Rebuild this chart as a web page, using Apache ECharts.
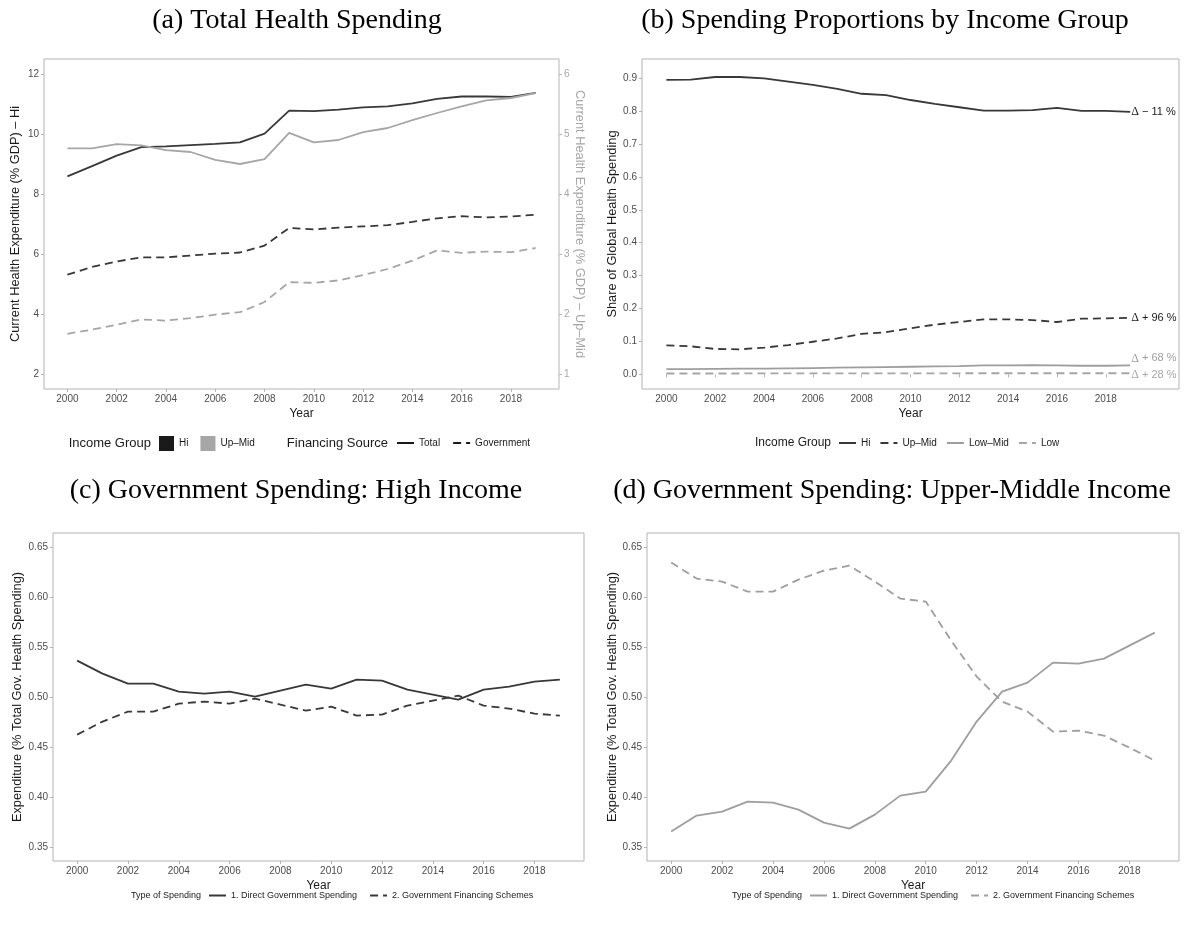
<!DOCTYPE html>
<html><head><meta charset="utf-8">
<script src="https://cdn.jsdelivr.net/npm/echarts@6/dist/echarts.min.js"></script>
<style>html,body{margin:0;padding:0;background:#fff}#c{width:1184px;height:933px}</style>
</head><body><div id="c"></div>
<script>
// ---------- data ----------
const years = [2000,2001,2002,2003,2004,2005,2006,2007,2008,2009,2010,2011,2012,2013,2014,2015,2016,2017,2018,2019];
const yearTicks = [2000,2002,2004,2006,2008,2010,2012,2014,2016,2018];

// (a) % GDP; Hi on left axis, Up-Mid on right axis
const hiTotal    = [8.61,8.95,9.30,9.58,9.61,9.65,9.69,9.74,10.03,10.80,10.78,10.83,10.91,10.94,11.04,11.19,11.27,11.27,11.26,11.39];
const hiGov      = [5.33,5.59,5.77,5.91,5.91,5.97,6.03,6.07,6.30,6.89,6.84,6.90,6.94,6.98,7.09,7.21,7.28,7.24,7.27,7.33];
const upMidTotal = [4.77,4.77,4.84,4.82,4.74,4.71,4.58,4.51,4.59,5.03,4.87,4.91,5.04,5.11,5.24,5.36,5.47,5.57,5.61,5.69];
const upMidGov   = [1.68,1.75,1.83,1.92,1.90,1.94,2.00,2.04,2.21,2.54,2.53,2.57,2.66,2.76,2.90,3.07,3.03,3.05,3.04,3.11];
const aLeftTicks  = [2,4,6,8,10,12];
const aRightTicks = [1,2,3,4,5,6];

// (b) share of global health spending
const shareHi     = [0.895,0.896,0.904,0.904,0.900,0.890,0.880,0.868,0.853,0.849,0.834,0.822,0.812,0.802,0.802,0.803,0.810,0.801,0.801,0.798];
const shareUpMid  = [0.088,0.085,0.077,0.076,0.081,0.089,0.099,0.109,0.123,0.128,0.140,0.151,0.159,0.167,0.167,0.165,0.159,0.169,0.170,0.172];
const shareLowMid = [0.016,0.016,0.0165,0.017,0.017,0.018,0.019,0.020,0.021,0.022,0.023,0.024,0.025,0.027,0.027,0.028,0.027,0.026,0.026,0.027];
const shareLow    = [0.0025,0.0025,0.0025,0.0025,0.0026,0.0026,0.0027,0.0027,0.0028,0.0029,0.0030,0.0030,0.0031,0.0032,0.0032,0.0032,0.0032,0.0032,0.0032,0.0032];
const bTicks      = [0,0.1,0.2,0.3,0.4,0.5,0.6,0.7,0.8,0.9];
const deltaLabels = ['− 11 %','+ 96 %','+ 68 %','+ 28 %'];

// (c) high income, (d) upper-middle income
const directHi     = [0.537,0.524,0.514,0.514,0.506,0.504,0.506,0.501,0.507,0.513,0.509,0.518,0.517,0.508,0.503,0.498,0.508,0.511,0.516,0.518];
const schemesHi    = [0.463,0.476,0.486,0.486,0.494,0.496,0.494,0.499,0.493,0.487,0.491,0.482,0.483,0.492,0.497,0.502,0.492,0.489,0.484,0.482];
const directUpMid  = [0.366,0.382,0.386,0.396,0.395,0.388,0.375,0.369,0.383,0.402,0.406,0.437,0.476,0.506,0.515,0.535,0.534,0.539,0.552,0.565];
const schemesUpMid = [0.635,0.619,0.616,0.606,0.606,0.618,0.627,0.632,0.616,0.599,0.596,0.557,0.521,0.496,0.486,0.466,0.467,0.462,0.450,0.437];
const cdTicks      = [0.35,0.40,0.45,0.50,0.55,0.60,0.65];

// ---------- styling ----------
const DARK = '#383838', GREY = '#9e9e9e', LGREY = '#a6a6a6', BORDER = '#b3b3b3', TXT = '#4d4d4d';
const SANS = 'Liberation Sans', SERIF = 'Liberation Serif';
const DASH = [8,5];

function pts(arr){ return years.map((y,i)=>[y,arr[i]]); }
function line(name, ax, ay, arr, color, dashed, extra){
  return Object.assign({
    type:'line', name, xAxisIndex:ax, yAxisIndex:ay, data:pts(arr), symbol:'none',
    lineStyle:{color, width:1.8, type: dashed?DASH:'solid'}, itemStyle:{color},
    animation:false, silent:true
  }, extra||{});
}
function dummy(name, color, dashed){
  return {type:'line', name, data:[], xAxisIndex:0, yAxisIndex:0, symbol:'none',
    lineStyle:{color, width:1.8, type: dashed?DASH:'solid'}, itemStyle:{color}, animation:false};
}
function xAxis(grid, min, max){
  return {type:'value', gridIndex:grid, min, max, name:'Year', nameLocation:'middle', nameGap:19,
    nameTextStyle:{color:'#1a1a1a', fontSize:12, fontFamily:SANS},
    axisLine:{show:false}, splitLine:{show:false},
    axisTick:{show:true, length:3, lineStyle:{color:BORDER}, customValues:yearTicks},
    axisLabel:{color:TXT, fontSize:10, fontFamily:SANS, margin:5, customValues:yearTicks, formatter:v=>String(v)}};
}
function yAxis(grid, min, max, ticks, dec, name, gap, pos, color){
  return {type:'value', gridIndex:grid, min, max, position:pos||'left',
    name, nameLocation:'middle', nameGap:gap, nameRotate: pos==='right' ? -90 : 90,
    nameTextStyle:{color: color||'#1a1a1a', fontSize:12.8, fontFamily:SANS},
    axisLine:{show:false}, splitLine:{show:false},
    axisTick:{show:true, length:3, lineStyle:{color:BORDER}, customValues:ticks},
    axisLabel:{color: color ? color : TXT, fontSize:10, fontFamily:SANS, margin:5, customValues:ticks, formatter:v=>v.toFixed(dec)}};
}
const gridBase = {show:true, borderColor:BORDER, borderWidth:1, backgroundColor:'#fff'};
const legendText = {fontSize:10, fontFamily:SANS, color:'#1a1a1a'};
const smallText = {fontSize:9, fontFamily:SANS, color:'#1a1a1a'};
const strip = n => n.split('|')[1];
const noDot = {opacity:0};

function endLab(text, color, dy){
  return {endLabel:{show:true, formatter:'{d|Δ} '+text, color, fontSize:11, fontFamily:SANS,
    distance:1, offset:[0,dy], rich:{d:{fontFamily:SERIF, fontSize:12, color}}},
    labelLayout:{hideOverlap:false}};
}

const option = {
  animation:false,
  grid:[
    Object.assign({left:44, top:59, width:515, height:330}, gridBase),
    Object.assign({left:642, top:59, width:537, height:330}, gridBase),
    Object.assign({left:53, top:533, width:531, height:328}, gridBase),
    Object.assign({left:647, top:533, width:532, height:328}, gridBase)
  ],
  xAxis:[ xAxis(0,1999.05,2019.95), xAxis(1,1999,2021), xAxis(2,1999.05,2019.95), xAxis(3,1999.05,2019.95) ],
  yAxis:[
    yAxis(0,1.52,12.52,aLeftTicks,0,'Current Health Expenditure (% GDP) – Hi',22,'left'),
    yAxis(0,0.76,6.26,aRightTicks,0,'Current Health Expenditure (% GDP) – Up–Mid',12,'right',LGREY),
    yAxis(1,-0.0447,0.9587,bTicks,1,'Share of Global Health Spending',23,'left'),
    yAxis(2,0.3366,0.6646,cdTicks,2,'Expenditure (% Total Gov. Health Spending)',29,'left'),
    yAxis(3,0.3366,0.6646,cdTicks,2,'Expenditure (% Total Gov. Health Spending)',27,'left')
  ],
  legend:[
    {left:159, top:436, padding:0, itemWidth:15, itemHeight:15, itemGap:12, textStyle:legendText, formatter:strip,
      selectedMode:false, data:[{name:'a|Hi',icon:'rect'},{name:'a|Up–Mid',icon:'rect'}]},
    {left:396, top:438, padding:0, itemWidth:17, itemHeight:10, itemGap:12, textStyle:legendText, formatter:strip,
      selectedMode:false, itemStyle:noDot, data:['a|Total','a|Government']},
    {left:838, top:438, padding:0, itemWidth:17, itemHeight:10, itemGap:9, textStyle:legendText, formatter:strip,
      selectedMode:false, itemStyle:noDot, data:['b|Hi','b|Up–Mid','b|Low–Mid','b|Low']},
    {left:208, top:891, padding:0, itemWidth:17, itemHeight:10, itemGap:12, textStyle:smallText, formatter:strip,
      selectedMode:false, itemStyle:noDot, data:['c|1. Direct Government Spending','c|2. Government Financing Schemes']},
    {left:809, top:891, padding:0, itemWidth:17, itemHeight:10, itemGap:12, textStyle:smallText, formatter:strip,
      selectedMode:false, itemStyle:noDot, data:['d|1. Direct Government Spending','d|2. Government Financing Schemes']}
  ],
  graphic:[
    {type:'text', x:297, y:21, style:{text:'(a) Total Health Spending', font:'28px '+SERIF, fill:'#000', align:'center', verticalAlign:'middle'}},
    {type:'text', x:885, y:21, style:{text:'(b) Spending Proportions by Income Group', font:'28px '+SERIF, fill:'#000', align:'center', verticalAlign:'middle'}},
    {type:'text', x:296, y:491, style:{text:'(c) Government Spending: High Income', font:'28px '+SERIF, fill:'#000', align:'center', verticalAlign:'middle'}},
    {type:'text', x:892, y:491, style:{text:'(d) Government Spending: Upper-Middle Income', font:'28px '+SERIF, fill:'#000', align:'center', verticalAlign:'middle'}},
    {type:'text', x:151, y:443, style:{text:'Income Group', font:'13px '+SANS, fill:'#1a1a1a', align:'right', verticalAlign:'middle'}},
    {type:'text', x:388, y:443, style:{text:'Financing Source', font:'13px '+SANS, fill:'#1a1a1a', align:'right', verticalAlign:'middle'}},
    {type:'text', x:831, y:443, style:{text:'Income Group', font:'12px '+SANS, fill:'#1a1a1a', align:'right', verticalAlign:'middle'}},
    {type:'text', x:201, y:896, style:{text:'Type of Spending', font:'9px '+SANS, fill:'#1a1a1a', align:'right', verticalAlign:'middle'}},
    {type:'text', x:802, y:896, style:{text:'Type of Spending', font:'9px '+SANS, fill:'#1a1a1a', align:'right', verticalAlign:'middle'}}
  ],
  series:[
    // legend-only entries for panel (a)
    dummy('a|Hi','#1a1a1a',false), dummy('a|Up–Mid',LGREY,false),
    dummy('a|Total','#1a1a1a',false), dummy('a|Government','#1a1a1a',true),
    // panel (a)
    line('Hi Total',0,0,hiTotal,DARK,false),
    line('Hi Government',0,0,hiGov,DARK,true),
    line('Up–Mid Total',0,1,upMidTotal,LGREY,false),
    line('Up–Mid Government',0,1,upMidGov,LGREY,true),
    // panel (b)
    line('b|Hi',1,2,shareHi,DARK,false,endLab(deltaLabels[0],'#1a1a1a',0)),
    line('b|Up–Mid',1,2,shareUpMid,DARK,true,endLab(deltaLabels[1],'#1a1a1a',0)),
    line('b|Low–Mid',1,2,shareLowMid,GREY,false,endLab(deltaLabels[2],GREY,-7)),
    line('b|Low',1,2,shareLow,LGREY,true,endLab(deltaLabels[3],LGREY,2)),
    // panel (c)
    line('c|1. Direct Government Spending',2,3,directHi,DARK,false),
    line('c|2. Government Financing Schemes',2,3,schemesHi,DARK,true),
    // panel (d)
    line('d|1. Direct Government Spending',3,4,directUpMid,GREY,false),
    line('d|2. Government Financing Schemes',3,4,schemesUpMid,GREY,true)
  ]
};
const chart = echarts.init(document.getElementById('c'), null, {renderer:'canvas'});
chart.setOption(option);
</script>
</body></html>
